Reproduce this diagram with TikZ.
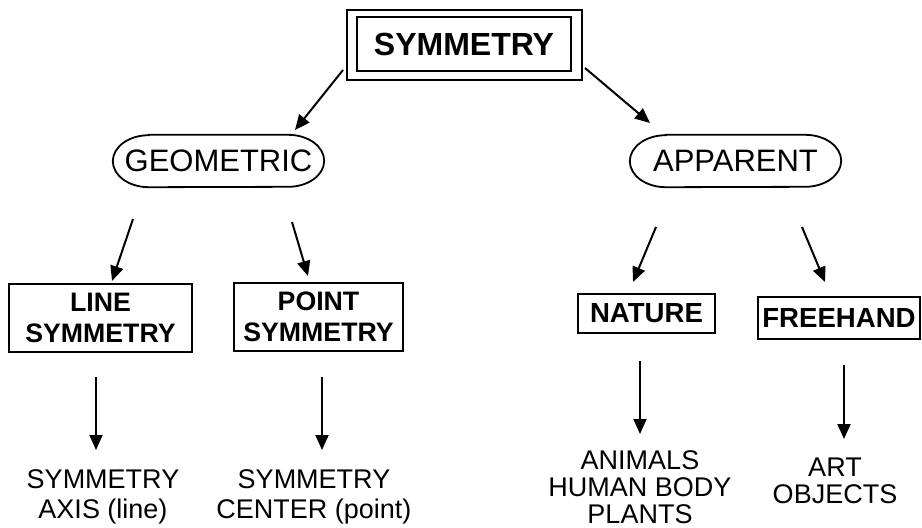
\documentclass[tikz,border=0pt]{standalone}
\usepackage{fontspec}
\setmainfont{Liberation Sans}
\usetikzlibrary{arrows.meta,calc}
\begin{document}
\begin{tikzpicture}[x=1pt,y=-1pt,
  box/.style={draw,line width=2pt,inner sep=0pt,align=center,
    font=\bfseries\fontsize{26.7}{31}\selectfont},
  oval/.style={inner sep=0pt,minimum width=211pt,minimum height=52pt,
    font=\fontsize{31}{36}\selectfont},
  leaf/.style={align=center,inner sep=0pt,font=\fontsize{27}{30}\selectfont},
  link/.style={line width=2pt,-{Triangle[length=15pt,width=13pt]}},
  rim/.style={line width=1.8pt}]
\useasboundingbox (0,0) rectangle (922,528);

% root: double-framed title
\node[box,minimum width=214pt,minimum height=54pt,
  font=\bfseries\fontsize{32}{36}\selectfont] (sym) at (464,44) {SYMMETRY};
\draw[line width=2pt] ($(sym.north west)+(-9,-6)$) rectangle ($(sym.south east)+(10,8)$);

% second level: labels inside flattened ovals
\node[oval] (geo) at (218.5,161) {GEOMETRIC};
\node[oval] (app) at (735.5,161) {APPARENT};
\foreach \n in {geo,app}
  \draw[rim] ($(\n.north west)+(36,0)$) -- ($(\n.north east)+(-36,0)$)
    arc[start angle=-90,end angle=90,x radius=36,y radius=26]
    -- ($(\n.south west)+(36,0)$)
    arc[start angle=90,end angle=270,x radius=36,y radius=26] -- cycle;

% third level
\node[box,minimum width=183pt,minimum height=68pt] (line) at (100.5,318) {LINE\\SYMMETRY};
\node[box,minimum width=169pt,minimum height=68pt] (point) at (318.5,317) {POINT\\SYMMETRY};
\node[box,minimum width=137pt,minimum height=39pt,
  font=\bfseries\fontsize{27.6}{31}\selectfont] (nat) at (646.5,313.5) {NATURE};
\node[box,minimum width=162pt,minimum height=42pt,
  font=\bfseries\fontsize{27.6}{31}\selectfont] (free) at (839,318) {FREEHAND};

% leaves
\node[leaf] (axis) at (103,497) {SYMMETRY\\AXIS (line)};
\node[leaf] (cent) at (314,497) {SYMMETRY\\CENTER (point)};
\node[leaf,font=\fontsize{27}{27}\selectfont] (anim) at (640,487) {ANIMALS\\HUMAN BODY\\PLANTS};
\node[leaf,font=\fontsize{27}{27}\selectfont] (art) at (835,481) {ART\\OBJECTS};

% free-standing arrow ends
\coordinate (s1) at (343,70);  \coordinate (e1) at (295,130);
\coordinate (s2) at (585,68);  \coordinate (e2) at (650,123);
\coordinate (s3) at (133,219); \coordinate (e3) at (112,281);
\coordinate (s4) at (292,222); \coordinate (e4) at (308,276);
\coordinate (s5) at (96,377);  \coordinate (e5) at (96,450);
\coordinate (s6) at (322,377); \coordinate (e6) at (322,450);
\coordinate (s7) at (656,227); \coordinate (e7) at (633,282);
\coordinate (s8) at (802,227); \coordinate (e8) at (825,282);
\coordinate (s9) at (640,361); \coordinate (e9) at (640,434);
\coordinate (s10) at (844,365); \coordinate (e10) at (844,439);

\foreach \i in {1,...,10} \draw[link] (s\i) -- (e\i);
\end{tikzpicture}
\end{document}
